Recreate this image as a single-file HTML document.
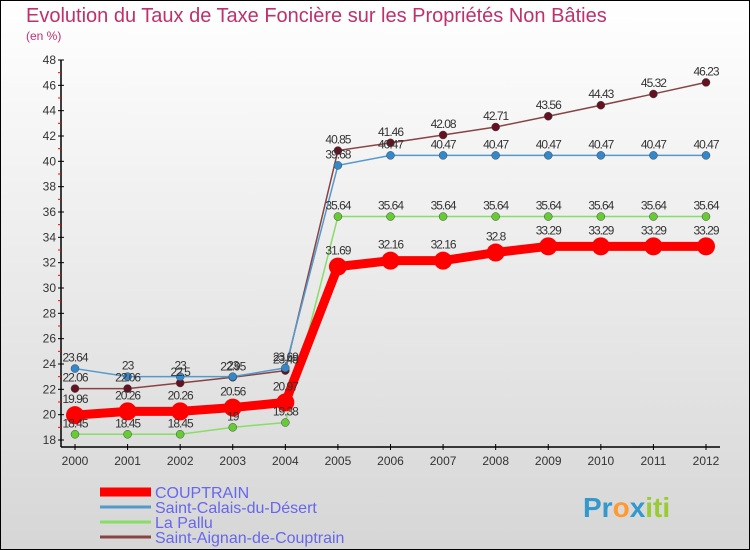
<!DOCTYPE html>
<html><head><meta charset="utf-8"><style>
body{margin:0;}
#c{width:750px;height:550px;position:relative;overflow:hidden;font-family:"Liberation Sans",sans-serif;}
</style></head><body>
<div id="c">
<svg id="svg" width="750" height="550" xmlns="http://www.w3.org/2000/svg">
<defs><linearGradient id="bg" x1="0" y1="0" x2="0" y2="1"><stop offset="0" stop-color="#ffffff"/><stop offset="1" stop-color="#d6d6d6"/></linearGradient></defs>
<rect x="0.5" y="0.5" width="749" height="549" fill="url(#bg)" stroke="#000"/>
<text x="26" y="22" font-size="20" fill="#c0306a">Evolution du Taux de Taxe Foncière sur les Propriétés Non Bâties</text>
<text x="26" y="40" font-size="12" fill="#c0306a">(en %)</text>
<g id="axes"></g><g id="series"></g><g id="labels"></g>
<g id="legend"></g>
<text x="583" y="517" font-size="28" font-weight="bold"><tspan fill="#3399cc">Pr</tspan><tspan fill="#ff9933">o</tspan><tspan fill="#3399cc">x</tspan><tspan fill="#99cc33">iti</tspan></text>
</svg></div>
<script>
const years=[2000,2001,2002,2003,2004,2005,2006,2007,2008,2009,2010,2011,2012];
const couptrain=[19.96,20.26,20.26,20.56,20.97,31.69,32.16,32.16,32.8,33.29,33.29,33.29,33.29];
const saintCalais=[23.64,23,23,23,23.69,39.68,40.47,40.47,40.47,40.47,40.47,40.47,40.47];
const laPallu=[18.45,18.45,18.45,19,19.38,35.64,35.64,35.64,35.64,35.64,35.64,35.64,35.64];
const saintAignan=[22.06,22.06,22.5,22.95,23.48,40.85,41.46,42.08,42.71,43.56,44.43,45.32,46.23];
const yTicks=[18,20,22,24,26,28,30,32,34,36,38,40,42,44,46,48];
const seriesNames=["COUPTRAIN","Saint-Calais-du-Désert","La Pallu","Saint-Aignan-de-Couptrain"];
const NS="http://www.w3.org/2000/svg";
const X=i=>75+i*(706-75)/(years.length-1);
const Y=v=>440-(v-18)*(380/30);
function mk(t,a,p){const e=document.createElementNS(NS,t);for(const k in a)e.setAttribute(k,a[k]);p.appendChild(e);return e;}
const ax=document.getElementById('axes');
let l=mk('line',{x1:61,y1:60,x2:61,y2:447,stroke:'#000','stroke-width':1.5},ax);


l=mk('line',{x1:61,y1:447,x2:720,y2:447,stroke:'#000','stroke-width':1.5},ax);


yTicks.forEach(v=>{mk('line',{x1:58,y1:Y(v),x2:64,y2:Y(v),stroke:'#000'},ax);
 if(v<48)mk('line',{x1:58,y1:Y(v+1),x2:61,y2:Y(v+1),stroke:'#f00'},ax);
 const t=mk('text',{x:56,y:Y(v)+4,'text-anchor':'end','font-size':12,fill:'#333'},ax);t.textContent=v;
 
 });
years.forEach((y,i)=>{mk('line',{x1:X(i),y1:444,x2:X(i),y2:450,stroke:'#000'},ax);
 const t=mk('text',{x:X(i),y:465,'text-anchor':'middle','font-size':12,fill:'#333'},ax);t.textContent=y;
 
 });
const sg=document.getElementById('series'),lg=document.getElementById('labels');
const defs=[[laPallu,'#88dd66','#66cc33',1.5,4,-7],[saintAignan,'#884444','#661122',1.5,4,-7],[saintCalais,'#5599cc','#3388cc',1.5,4,-7],[couptrain,'#ff0000','#ff0000',9,9,-12]];
const order=[2,3,1,0];
defs.forEach((d,k)=>{const [vals,lc,pc,w,r,off]=d;
 const g=mk('g',{},sg);
 
 
 mk('polyline',{points:vals.map((v,i)=>X(i)+','+Y(v)).join(' '),fill:'none',stroke:lc,'stroke-width':w},g);
 vals.forEach((v,i)=>{const c=mk('circle',{cx:X(i),cy:Y(v),r:r,fill:pc,stroke:k==3?'none':'#444','stroke-width':0.5},g);
  
  
  const t=mk('text',{x:X(i),y:Y(v)+off,'text-anchor':'middle','font-size':12,fill:'#333','letter-spacing':'-1'},lg);t.textContent=v;
  
  });});
const le=document.getElementById('legend');
const lcol=['#ff0000','#5599cc','#88dd66','#884444'],lw=[9,3,3,3];
seriesNames.forEach((n,i)=>{const y=492+i*15;
 const g=mk('g',{},le);
 
 
 mk('line',{x1:100,y1:y,x2:151,y2:y,stroke:lcol[i],'stroke-width':lw[i]},g);
 const t=mk('text',{x:155,y:y+6,'font-size':16,fill:'#6666ee'},g);t.textContent=n;});
</script>
</body></html>
